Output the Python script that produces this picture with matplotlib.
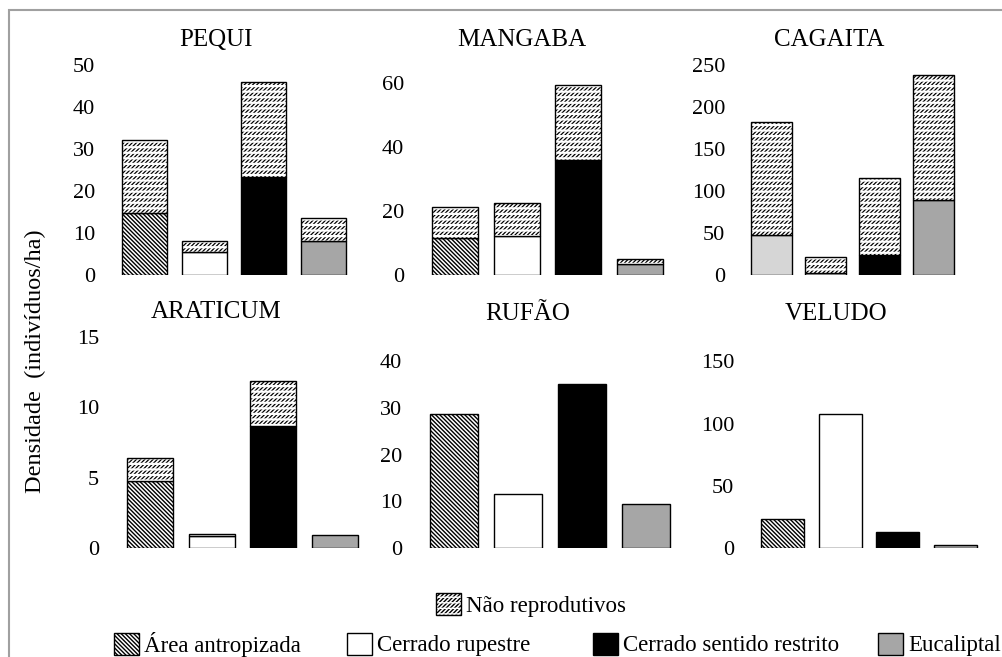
import matplotlib
matplotlib.use('Agg')
import matplotlib.pyplot as plt
from matplotlib.patches import Patch, Rectangle
from matplotlib.legend_handler import HandlerTuple
import numpy as np

plt.rcParams['font.family'] = ['Liberation Serif', 'DejaVu Serif']

# dados (individuos/ha)
areas = ['Área antropizada', 'Cerrado rupestre', 'Cerrado sentido restrito', 'Eucaliptal']

pequi_rep = [14.8, 5.5, 23.3, 8.1]
pequi_nrep = [17.3, 2.6, 22.7, 5.5]
mangaba_rep = [11.6, 12.2, 36.0, 3.4]
mangaba_nrep = [9.6, 10.3, 23.4, 1.6]
cagaita_rep = [47.6, 2.0, 23.8, 89.0]
cagaita_nrep = [134.4, 19.4, 91.2, 149.0]
araticum_rep = [4.76, 0.85, 8.7, 0.92]
araticum_nrep = [1.64, 0.12, 3.2, 0.0]
rufao_rep = [28.8, 11.5, 35.1, 9.4]
veludo_rep = [23.0, 108.0, 13.2, 2.2]

W, H = 1003, 657


def box(l, t, r, b):
    return [l / W, 1 - b / H, (r - l) / W, (b - t) / H]


def nrep_patches():
    # padrao "tracejado diagonal": hachura / cortada por linhas brancas
    with plt.rc_context({'hatch.linewidth': 0.9}):
        p1 = Patch(facecolor='white', edgecolor='black', hatch='/' * 8, linewidth=0)
    with plt.rc_context({'hatch.linewidth': 1.6}):
        p2 = Patch(facecolor='none', edgecolor='white', hatch='---', linewidth=0)
    p3 = Patch(facecolor='none', edgecolor='black', linewidth=1.0)
    return (p1, p2, p3)


def draw_panel(rect, rep, nrep, ylim, ticks, base_styles):
    ax = fig.add_axes(box(*rect))
    x = np.arange(4)
    for i in range(4):
        fc, hatch = base_styles[i]
        ax.bar(x[i], rep[i], 0.75, color=fc, hatch=hatch, edgecolor='black',
               linewidth=1.0, zorder=2)
    if nrep is not None:
        with plt.rc_context({'hatch.linewidth': 0.9}):
            ax.bar(x, nrep, 0.75, bottom=rep, color='white', hatch='/' * 8,
                   edgecolor='black', linewidth=0, zorder=2)
        with plt.rc_context({'hatch.linewidth': 1.6}):
            ax.bar(x, nrep, 0.75, bottom=rep, facecolor='none', hatch='---',
                   edgecolor='white', linewidth=0, zorder=3)
        for i in range(4):
            if nrep[i] > 0:
                ax.bar(x[i], nrep[i], 0.75, bottom=rep[i], facecolor='none',
                       edgecolor='black', linewidth=1.0, zorder=4)
    ax.set_xlim(-0.6, 3.6)
    ax.set_ylim(0, ylim)
    ax.set_yticks(ticks)
    ax.set_xticks([])
    ax.tick_params(axis='y', length=0, pad=10, labelsize=16)
    for s in ax.spines.values():
        s.set_visible(False)
    ax.patch.set_alpha(0)
    return ax


fig = plt.figure(figsize=(10.03, 6.57), dpi=100)

hatch_b = '\\' * 8
std = [('white', hatch_b), ('white', None), ('black', None), ('#a6a6a6', None)]
cag = [('#d6d6d6', None), ('white', None), ('black', None), ('#a6a6a6', None)]

draw_panel((109, 65, 359, 275), pequi_rep, pequi_nrep, 50, [0, 10, 20, 30, 40, 50], std)
draw_panel((418, 65, 677, 275), mangaba_rep, mangaba_nrep, 65.6, [0, 20, 40, 60], std)
draw_panel((739, 65, 966, 275), cagaita_rep, cagaita_nrep, 250, [0, 50, 100, 150, 200, 250], cag)
draw_panel((113, 337, 372, 548), araticum_rep, araticum_nrep, 15, [0, 5, 10, 15], std)
draw_panel((416, 337, 684, 548), rufao_rep, None, 45.2, [0, 10, 20, 30, 40], std)
draw_panel((748, 337, 990, 548), veludo_rep, None, 169.5, [0, 50, 100, 150], std)

titles = ['PEQUI', 'MANGABA', 'CAGAITA', 'ARATICUM', 'RUFÃO', 'VELUDO']
title_pos = [(216, 40), (522, 40), (829, 40), (216, 312), (528, 314), (836, 314)]
for t, (px, py) in zip(titles, title_pos):
    fig.text(px / W, 1 - py / H, t, ha='center', va='center', fontsize=18)

fig.text(35 / W, 1 - 361 / H, 'Densidade  (indivíduos/ha)', rotation=90,
         ha='center', va='center', fontsize=17.5)

# legendas
leg_kw = dict(loc='center left', frameon=False, fontsize=16.5, handlelength=1.1,
              handleheight=1.1, handletextpad=0.22, borderpad=0, borderaxespad=0)
fig.legend([nrep_patches()], ['Não reprodutivos'],
           handler_map={tuple: HandlerTuple(ndivide=1, pad=0)},
           bbox_to_anchor=(436 / W, 1 - 605 / H), **leg_kw)
leg_x = [114, 347, 593, 878]
for (fc, hh), lab, lx in zip(std, areas, leg_x):
    fig.legend([Patch(facecolor=fc, edgecolor='black', hatch=hh)], [lab],
               bbox_to_anchor=(lx / W, 1 - 644.5 / H), **leg_kw)

# moldura
fig.patches.append(Rectangle((9 / W, -0.05), 1.1, 1 - 10 / H + 0.05,
                             transform=fig.transFigure, fill=False,
                             edgecolor='#a0a0a0', linewidth=1.5))

fig.savefig('out.png', dpi=100)
